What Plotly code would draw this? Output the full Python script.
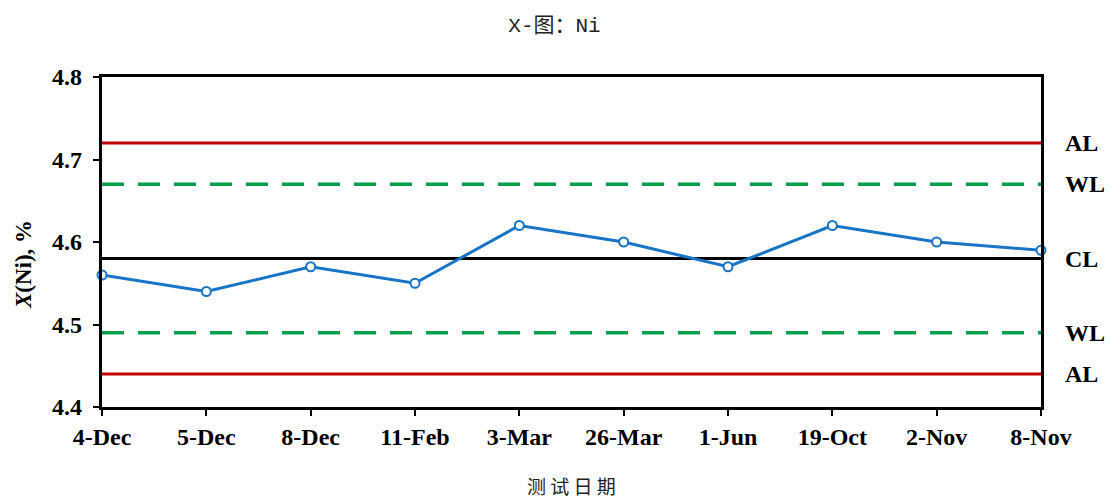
import plotly.graph_objects as go

# Measurement dates and X(Ni) results
dates = ["4-Dec", "5-Dec", "8-Dec", "11-Feb", "3-Mar", "26-Mar", "1-Jun", "19-Oct", "2-Nov", "8-Nov"]
ni_values = [4.56, 4.54, 4.57, 4.55, 4.62, 4.60, 4.57, 4.62, 4.60, 4.59]

# Control limits
cl_value = 4.58
wl_upper, wl_lower = 4.67, 4.49
al_upper, al_lower = 4.72, 4.44
limit_labels = ["AL", "WL", "CL", "WL", "AL"]
limit_values = [al_upper, wl_upper, cl_value, wl_lower, al_lower]

y_ticks = [4.4, 4.5, 4.6, 4.7, 4.8]

x_idx = list(range(len(dates)))
x_span = [x_idx[0], x_idx[-1]]

serif = "Liberation Serif, Times New Roman, serif"
red = "#C00000"
green = "#00A04A"
blue = "#1874C6"

fig = go.Figure()

for val in (al_upper, al_lower):
    fig.add_trace(go.Scatter(x=x_span, y=[val, val], mode="lines",
                             line=dict(color=red, width=3), hoverinfo="skip"))
for val in (wl_upper, wl_lower):
    fig.add_trace(go.Scatter(x=x_span, y=[val, val], mode="lines",
                             line=dict(color=green, width=3.5, dash="22px,14px"),
                             hoverinfo="skip"))
fig.add_trace(go.Scatter(x=x_span, y=[cl_value, cl_value], mode="lines",
                         line=dict(color="black", width=2.8), hoverinfo="skip"))

fig.add_trace(go.Scatter(
    x=x_idx, y=ni_values, mode="lines+markers",
    line=dict(color=blue, width=3),
    marker=dict(symbol="circle", size=9, color="white", line=dict(color=blue, width=2)),
    cliponaxis=False,
))

annotations = []
for lab, val in zip(limit_labels, limit_values):
    annotations.append(dict(x=1.0, xref="paper", xshift=22, y=val, yref="y",
                            text=f"<b>{lab}</b>", showarrow=False, xanchor="left",
                            yanchor="middle",
                            font=dict(family=serif, size=24, color="black")))
annotations.append(dict(x=0.0, xref="paper", xshift=-79, y=0.43, yref="paper",
                        text="<b><i>X</i>(Ni), %</b>", showarrow=False, textangle=-90,
                        xanchor="center", yanchor="middle",
                        font=dict(family=serif, size=23, color="black")))
annotations.append(dict(x=0.5, xref="paper", y=-0.238, yref="paper",
                        text="测 试 日 期", showarrow=False, xanchor="center",
                        yanchor="middle",
                        font=dict(family="Noto Sans CJK SC", size=19, color="#222222")))

fig.update_layout(
    width=1109, height=501,
    margin=dict(l=102, r=68, t=77, b=94),
    paper_bgcolor="white", plot_bgcolor="white",
    showlegend=False,
    title=dict(text="X-图：Ni", x=0.5, xanchor="center", y=0.95, yanchor="middle",
               font=dict(family="Liberation Mono, Noto Sans CJK SC", size=21,
                         color="#222222")),
    annotations=annotations,
    font=dict(family=serif, color="black"),
)

fig.update_xaxes(
    range=[x_idx[0], x_idx[-1]], tickmode="array", tickvals=x_idx, ticktext=dates,
    ticks="outside", ticklen=6, tickwidth=1.5, tickcolor="black",
    showline=True, linewidth=3.2, linecolor="black", mirror=True,
    showgrid=False, zeroline=False,
    tickfont=dict(family=serif, size=24, color="black", weight="bold"),
)
fig.update_yaxes(
    range=[4.4, 4.8], tickmode="array", tickvals=y_ticks,
    ticktext=[f"{v:.1f}" for v in y_ticks],
    ticks="outside", ticklen=6, tickwidth=1.5, tickcolor="black",
    ticklabelstandoff=6,
    showline=True, linewidth=3.2, linecolor="black", mirror=True,
    showgrid=False, zeroline=False,
    tickfont=dict(family=serif, size=24, color="black", weight="bold"),
)

fig.write_html("out.html")
